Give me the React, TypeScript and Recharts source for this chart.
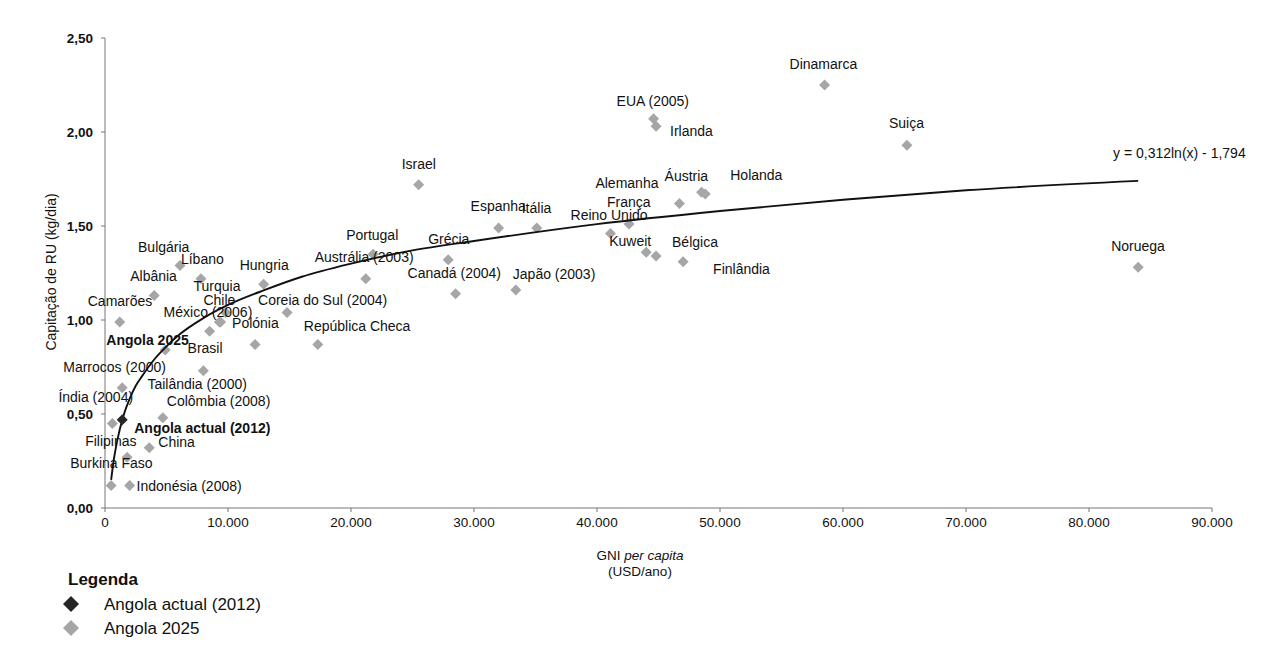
import React from 'react'
import { ScatterChart, Scatter, XAxis, YAxis } from 'recharts'

// países (GNI per capita em USD/ano, capitação de RU em kg/dia)
const countries = [
  'Dinamarca', 'EUA (2005)', 'Irlanda', 'Suiça', 'Israel', 'Áustria', 'Holanda', 'Alemanha',
  'França', 'Reino Unido', 'Espanha', 'Itália', 'Portugal', 'Austrália (2003)', 'Grécia',
  'Kuweit', 'Bélgica', 'Finlândia', 'Noruega', 'Canadá (2004)', 'Japão (2003)', 'Bulgária',
  'Líbano', 'Albânia', 'Hungria', 'Camarões', 'Turquia', 'Chile', 'México (2006)', 'Brasil',
  'Coreia do Sul (2004)', 'Polónia', 'República Checa', 'Marrocos (2000)', 'Tailândia (2000)',
  'Índia (2004)', 'Colômbia (2008)', 'Filipinas', 'China', 'Burkina Faso', 'Indonésia (2008)',
]
const gniUsd = [
  58500, 44600, 44800, 65200, 25500, 48500, 48800, 46700,
  42600, 41100, 32000, 35100, 21800, 21200, 27900,
  44000, 44800, 47000, 84000, 28500, 33400, 6100,
  7800, 4000, 12900, 1200, 9800, 9300, 9400, 8500,
  14800, 12200, 17300, 1400, 8000,
  600, 4700, 1800, 3600, 500, 2000,
]
const wasteKg = [
  2.25, 2.07, 2.03, 1.93, 1.72, 1.68, 1.67, 1.62,
  1.51, 1.46, 1.49, 1.49, 1.35, 1.22, 1.32,
  1.36, 1.34, 1.31, 1.28, 1.14, 1.16, 1.29,
  1.22, 1.13, 1.19, 0.99, 1.04, 0.99, 0.99, 0.94,
  1.04, 0.87, 0.87, 0.64, 0.73,
  0.45, 0.48, 0.27, 0.32, 0.12, 0.12,
]

const angolaLabels = ['Angola 2025', 'Angola actual (2012)']
const angolaGni = [4900, 1400]
const angolaKg = [0.84, 0.47]

// curva de tendência
const trendGni = [500, 700, 1000, 1500, 2000, 2500, 3000, 4000, 5000, 6000, 8000, 10000, 13000, 16000, 20000, 25000, 30000, 40000, 50000, 60000, 70000, 84000]
const trendKg = [0.15, 0.25, 0.36, 0.49, 0.58, 0.65, 0.70, 0.79, 0.86, 0.92, 1.01, 1.08, 1.16, 1.23, 1.30, 1.37, 1.42, 1.51, 1.58, 1.64, 1.69, 1.74]

const xTicks = [0, 10000, 20000, 30000, 40000, 50000, 60000, 70000, 80000, 90000]
const yTicks = [0, 0.5, 1, 1.5, 2, 2.5]

const countryData = countries.map((name, i) => ({ name, x: gniUsd[i], y: wasteKg[i] }))
const angola2025 = [{ name: angolaLabels[0], x: angolaGni[0], y: angolaKg[0] }]
const angolaNow = [{ name: angolaLabels[1], x: angolaGni[1], y: angolaKg[1] }]
const trendData = trendGni.map((x, i) => ({ x, y: trendKg[i] }))

// deslocamento do rótulo (esquerda do texto, centro vertical) em relação ao ponto
const labelPos: Record<string, [number, number]> = {
  'Dinamarca': [-35, -21],
  'EUA (2005)': [-37, -18],
  'Irlanda': [14, 5],
  'Suiça': [-18, -22],
  'Israel': [-17, -21],
  'Áustria': [-37, -16],
  'Holanda': [25, -19],
  'Alemanha': [-84, -20],
  'França': [-22, -22],
  'Reino Unido': [-40, -19],
  'Espanha': [-28, -22],
  'Itália': [-15, -20],
  'Portugal': [-27, -19],
  'Austrália (2003)': [-51, -22],
  'Grécia': [-20, -21],
  'Kuweit': [-37, -11],
  'Bélgica': [16, -14],
  'Finlândia': [30, 7],
  'Noruega': [-27, -21],
  'Canadá (2004)': [-48, -21],
  'Japão (2003)': [-3, -16],
  'Bulgária': [-42, -18],
  'Líbano': [-20, -20],
  'Albânia': [-24, -20],
  'Hungria': [-24, -19],
  'Camarões': [-32, -21],
  'Turquia': [-32, -26],
  'Chile': [-16, -22],
  'México (2006)': [-57, -10],
  'Brasil': [-22, 17],
  'Coreia do Sul (2004)': [-29, -12],
  'Polónia': [-23, -21],
  'República Checa': [-14, -18],
  'Marrocos (2000)': [-59, -21],
  'Tailândia (2000)': [-56, 13],
  'Índia (2004)': [-54, -26],
  'Colômbia (2008)': [4, -17],
  'Filipinas': [-42, -16],
  'China': [9, -6],
  'Burkina Faso': [-41, -22],
  'Indonésia (2008)': [7, 1],
  'Angola 2025': [-59, -10],
  'Angola actual (2012)': [12, 8],
}

const FONT = '"Liberation Sans", Arial, sans-serif'
const INK = '#111'
const GREY = '#a6a6a6'
const DARK = '#262626'

const diamond = (cx: number, cy: number, r: number) =>
  `M${cx},${cy - r}L${cx + r},${cy}L${cx},${cy + r}L${cx - r},${cy}Z`

const makeShape = (fill: string, bold: boolean) => (props: any) => {
  const { cx, cy, payload } = props
  const [dx, dy] = labelPos[payload.name] || [6, -12]
  return (
    <g>
      <path d={diamond(cx, cy, 5.5)} fill={fill} />
      <text
        x={cx + dx}
        y={cy + dy}
        dominantBaseline="central"
        fontFamily={FONT}
        fontSize={14}
        fontWeight={bold ? 'bold' : 'normal'}
        fill={INK}
      >
        {payload.name}
      </text>
    </g>
  )
}

const fmtX = (v: number) => (v === 0 ? '0' : v.toLocaleString('de-DE'))
const fmtY = (v: number) => v.toFixed(2).replace('.', ',')

export default function App() {
  return (
    <div style={{ position: 'relative', width: 1276, height: 648, margin: -8, background: '#fff' }}>
      <ScatterChart width={1276} height={648} margin={{ top: 38, right: 64, bottom: 110, left: 45 }}>
        <XAxis
          type="number"
          dataKey="x"
          domain={[0, 90000]}
          ticks={xTicks}
          tickFormatter={fmtX}
          height={30}
          tickSize={4}
          tickMargin={5}
          axisLine={{ stroke: '#777' }}
          tickLine={{ stroke: '#777' }}
          tick={{ fill: INK, fontSize: 13.5, fontFamily: FONT }}
        />
        <YAxis
          type="number"
          dataKey="y"
          domain={[0, 2.5]}
          ticks={yTicks}
          tickFormatter={fmtY}
          width={60}
          tickSize={4}
          tickMargin={8}
          axisLine={{ stroke: '#777' }}
          tickLine={{ stroke: '#777' }}
          tick={{ fill: INK, fontSize: 13.5, fontFamily: FONT, fontWeight: 'bold' }}
        />
        <Scatter data={countryData} isAnimationActive={false} shape={makeShape(GREY, false)} />
        <Scatter data={angola2025} isAnimationActive={false} shape={makeShape(GREY, true)} />
        <Scatter
          data={trendData}
          isAnimationActive={false}
          line={{ stroke: '#111', strokeWidth: 1.9 }}
          lineJointType="monotoneX"
          shape={() => <g />}
        />
        <Scatter data={angolaNow} isAnimationActive={false} shape={makeShape(DARK, true)} />
      </ScatterChart>

      <svg
        width={1276}
        height={648}
        style={{ position: 'absolute', left: 0, top: 0, pointerEvents: 'none' }}
        fontFamily={FONT}
        fill={INK}
      >
        <text x={51} y={272} fontSize={14} textAnchor="middle" dominantBaseline="central" transform="rotate(-90 51 272)">
          Capitação de RU (kg/dia)
        </text>
        <text x={640} y={555} fontSize={13.5} textAnchor="middle" dominantBaseline="central">
          GNI <tspan fontStyle="italic">per capita</tspan>
        </text>
        <text x={640} y={571} fontSize={13.5} textAnchor="middle" dominantBaseline="central">
          (USD/ano)
        </text>
        <text x={1113} y={153} fontSize={14} dominantBaseline="central">
          y = 0,312ln(x) - 1,794
        </text>
        <text x={68} y={579} fontSize={17} fontWeight="bold" dominantBaseline="central">
          Legenda
        </text>
        <path d={diamond(71, 604, 8)} fill={DARK} />
        <text x={104} y={604} fontSize={17} dominantBaseline="central">
          Angola actual (2012)
        </text>
        <path d={diamond(71, 628, 8)} fill={GREY} />
        <text x={104} y={628} fontSize={17} dominantBaseline="central">
          Angola 2025
        </text>
      </svg>
    </div>
  )
}
